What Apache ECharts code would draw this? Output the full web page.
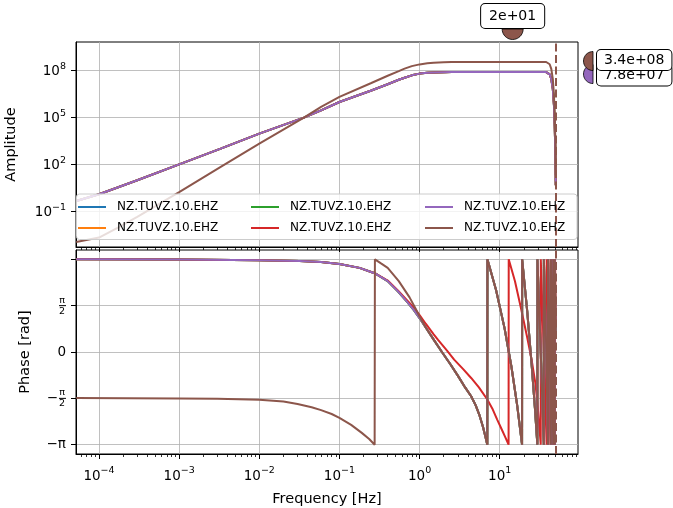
<!DOCTYPE html>
<html><head><meta charset="utf-8">
<script src="https://cdn.jsdelivr.net/npm/echarts@6/dist/echarts.min.js"></script>
<style>html,body{margin:0;padding:0;background:#fff}#c{width:673px;height:508px}</style>
</head><body><div id="c"></div>
<script>
// ---------------- data ----------------
const seriesLabel = 'NZ.TUVZ.10.EHZ';
const seriesCount = 6;
const colors = ['#1f77b4', '#ff7f0e', '#2ca02c', '#d62728', '#9467bd', '#8c564b'];

// amplitude response
const ampFreq = [5.2e-5, 1e-4, 1.7e-4, 3e-4, 1e-3, 3.3e-3, 1e-2, 3.6e-2, 5.9e-2, 0.1, 0.25, 0.4, 0.55, 0.65, 0.8, 1, 1.25, 1.5, 2, 2.5, 5, 10, 20, 38, 40, 42, 44, 46, 47.5, 48.5, 49.5, 50];
const ampA    = [0.457, 1.23, 3.3, 9.55, 100, 1000, 9.1e3, 9.5e4, 2.8e5, 9.5e5, 5.2e6, 1.3e7, 2.5e7, 3.4e7, 4.8e7, 6.2e7, 7.1e7, 7.4e7, 7.7e7, 7.8e7, 7.8e7, 7.8e7, 7.8e7, 7.8e7, 7.2e7, 5.6e7, 2.8e7, 6.3e6, 6.3e5, 3.2e4, 630, 4.6];
const ampB    = [1.1e-3, 2.1e-3, 8.7e-3, 0.044, 1.7, 69, 2.1e3, 9.5e4, 4.6e5, 2.0e6, 1.55e7, 4.5e7, 8.9e7, 1.29e8, 1.86e8, 2.4e8, 2.8e8, 3.1e8, 3.3e8, 3.4e8, 3.4e8, 3.4e8, 3.4e8, 3.4e8, 3.15e8, 2.45e8, 1.23e8, 2.75e7, 2.75e6, 1.4e5, 2.75e3, 20];

// phase response (rad)
const phaseFreqA = [5.2e-5, 1e-3, 1e-2, 3.2e-2, 5.9e-2, 0.1, 0.178, 0.275, 0.4, 0.54, 0.7, 0.85, 1.0, 1.2, 1.5, 1.9, 2.4, 3.0, 3.7, 4.4, 5.0, 5.6, 6.2, 6.6, 7.0, 7.02, 9, 11.5, 14, 16.5, 19, 19.05, 22, 25, 27.5, 29.5, 29.55, 32.5, 35.5, 35.55, 38, 40, 40.05, 42, 43.5, 43.55, 45, 46.5, 46.55, 48.5, 48.55, 50];
const phaseA     = [3.14, 3.135, 3.11, 3.08, 3.05, 2.98, 2.85, 2.67, 2.4, 2.05, 1.7, 1.42, 1.15, 0.82, 0.42, 0.0, -0.4, -0.8, -1.2, -1.5, -1.8, -2.15, -2.55, -2.85, -3.14, 3.14, 2.1, 0.8, -0.5, -1.8, -3.14, 3.14, 1.4, -0.4, -1.9, -3.14, 3.14, 0, -3.14, 3.14, 0.2, -3.14, 3.14, 0.4, -3.14, 3.14, 0.2, -3.14, 3.14, -3.14, 3.14, 0.5];

const phaseFreqR = [5.2e-5, 1e-3, 1e-2, 3.2e-2, 5.9e-2, 0.1, 0.178, 0.275, 0.4, 0.54, 0.7, 0.85, 1.0, 1.2, 1.5, 1.7, 2.2, 2.7, 3.5, 4.4, 5.5, 7.0, 8.2, 9.3, 10.5, 11.8, 12.9, 12.95, 15.5, 18.6, 22, 25, 28, 30, 32.5, 32.55, 35.5, 38.5, 38.55, 41, 43, 43.05, 45, 46.5, 46.55, 48, 49, 49.05, 50];
const phaseR     = [3.14, 3.135, 3.11, 3.08, 3.05, 2.98, 2.85, 2.67, 2.42, 2.08, 1.75, 1.5, 1.25, 0.95, 0.6, 0.41, 0.05, -0.26, -0.58, -0.88, -1.2, -1.61, -1.95, -2.29, -2.6, -2.9, -3.14, 3.14, 2.4, 1.43, 0.5, -0.26, -1.1, -1.95, -3.14, 3.14, 0, -3.14, 3.14, 0, -3.14, 3.14, 0, -3.14, 3.14, 0, -3.14, 3.14, 1.0];

const phaseFreqB = [5.2e-5, 1e-3, 3e-3, 1e-2, 2e-2, 3e-2, 4.5e-2, 5.9e-2, 8e-2, 0.1, 0.14, 0.19, 0.235, 0.275, 0.277, 0.33, 0.4, 0.55, 0.75, 0.9, 1.0, 1.2, 1.5, 1.9, 2.4, 3.0, 3.7, 4.4, 5.0, 5.6, 6.2, 6.6, 7.0, 7.02, 9, 11.5, 14, 16.5, 19, 19.05, 22, 25, 27.5, 29.5, 29.55, 32.5, 35.5, 35.55, 38, 40, 40.05, 42, 43.5, 43.55, 45, 46.5, 46.55, 48.5, 48.55, 50];
const phaseB     = [-1.557, -1.572, -1.585, -1.615, -1.68, -1.76, -1.87, -1.97, -2.1, -2.23, -2.47, -2.74, -2.95, -3.14, 3.14, 3.0, 2.85, 2.4, 1.85, 1.45, 1.2, 0.82, 0.42, 0.0, -0.4, -0.8, -1.2, -1.5, -1.8, -2.15, -2.55, -2.85, -3.14, 3.14, 2.1, 0.8, -0.5, -1.8, -3.14, 3.14, 1.4, -0.4, -1.9, -3.14, 3.14, 0, -3.14, 3.14, 0.2, -3.14, 3.14, 0.4, -3.14, 3.14, 0.2, -3.14, 3.14, -3.14, 3.14, 0.5];

// which amplitude / phase set each series uses
const ampSets   = [ampA, ampA, ampA, ampA, ampA, ampB];
const phaseSets = [[phaseFreqA, phaseA], [phaseFreqA, phaseA], [phaseFreqA, phaseA], [phaseFreqR, phaseR], [phaseFreqA, phaseA], [phaseFreqB, phaseB]];

const nyquist = 50;
const xMajorTicks = [1e-4, 1e-3, 1e-2, 1e-1, 1, 10];
const ampTicks = [1e-1, 1e2, 1e5, 1e8];
const phaseTicks = [-Math.PI, -Math.PI / 2, 0, Math.PI / 2, Math.PI];

// annotations
const annoFreq = 14.5, annoFreqText = '2e+01';
const annoAmpB = 3.4e8, annoAmpBText = '3.4e+08';
const annoAmpA = 7.8e7, annoAmpAText = '7.8e+07';

// axis ranges
const xMin = 5.16e-5, xMax = 94.8;
const ampMin = 5.25e-4, ampMax = 6.46e9;
const phMin = -1.1 * Math.PI, phMax = 1.1 * Math.PI;

// ---------------- chart ----------------
const FONT = 'DejaVu Sans';
const L = 76, R = 578, T1 = 42, B1 = 247, T2 = 250, B2 = 454;
const xMinorTicks = [];
for (let k = -5; k <= 1; k++) for (let m = 2; m <= 9; m++) {
  const v = m * Math.pow(10, k);
  if (v >= xMin && v <= xMax) xMinorTicks.push(+v.toPrecision(3));
}
const names = [];
for (let i = 0; i < seriesCount; i++) names.push(seriesLabel + '#' + i);

const gridLine = { show: true, lineStyle: { color: '#b0b0b0', width: 0.8, type: 'solid' } };
function expLabel(v) {
  const e = Math.round(Math.log10(v));
  const s = e < 0 ? '\u2212' + (-e) : '' + e;
  return '{b|10}{s|' + s + '}';
}
const expRich = {
  b: { fontSize: 13.5, fontFamily: FONT, color: '#000', lineHeight: 17, verticalAlign: 'bottom' },
  s: { fontSize: 9.5, fontFamily: FONT, color: '#000', lineHeight: 17, verticalAlign: 'top' }
};
function xMajorAxis(gi, showLabel) {
  return {
    type: 'log', logBase: 10, gridIndex: gi, min: xMin, max: xMax, position: 'bottom',
    axisLine: { show: true, onZero: false, lineStyle: { color: '#000', width: 1 } },
    axisTick: { show: true, customValues: xMajorTicks, length: 5, lineStyle: { color: '#000', width: 1 } },
    axisLabel: { show: showLabel, customValues: xMajorTicks, formatter: expLabel, rich: expRich, margin: 12, color: '#000' },
    splitLine: gridLine, minorTick: { show: false }, minorSplitLine: { show: false },
    name: showLabel ? 'Frequency [Hz]' : '', nameLocation: 'middle', nameGap: 38,
    nameTextStyle: { fontFamily: FONT, fontSize: 14.5, color: '#000' }
  };
}
function xMinorAxis(gi) {
  return {
    type: 'log', logBase: 10, gridIndex: gi, min: xMin, max: xMax, position: 'bottom',
    axisLine: { show: false, onZero: false },
    axisTick: { show: true, customValues: xMinorTicks, length: 3, lineStyle: { color: '#000', width: 0.8 } },
    axisLabel: { show: false, customValues: xMinorTicks },
    splitLine: { show: false }, minorTick: { show: false }
  };
}
function phaseLabel(v) {
  if (Math.abs(v - Math.PI) < 1e-6) return '';
  if (Math.abs(v - Math.PI / 2) < 1e-6) return '{n|π}\n{bar| }\n{d|2}';
  if (Math.abs(v) < 1e-6) return '{z|0}';
  if (Math.abs(v + Math.PI / 2) < 1e-6) return '{n|π}\n{m|\u2212}{bar| }\n{d|2}';
  return '{z|\u2212π}';
}
const phaseRich = {
  n: { fontSize: 9.5, fontFamily: FONT, color: '#000', lineHeight: 8, align: 'right', padding: [0, 1, 0, 0] },
  d: { fontSize: 9.5, fontFamily: FONT, color: '#000', lineHeight: 8, align: 'right', padding: [0, 1, 0, 0] },
  bar: { fontSize: 1, width: 7, height: 1, backgroundColor: '#000', lineHeight: 3, align: 'right' },
  m: { fontSize: 13.5, fontFamily: FONT, color: '#000', lineHeight: 3, align: 'left', padding: [0, 1, 0, 0] },
  z: { fontSize: 13.5, fontFamily: FONT, color: '#000' }
};

const series = [];
for (let i = 0; i < seriesCount; i++) {
  const amp = ampSets[i];
  const ampData = ampFreq.map((f, j) => [f, amp[j]]);
  const pf = phaseSets[i][0], pv = phaseSets[i][1];
  const phData = pf.map((f, j) => [f, pv[j]]);
  const isLast = i === seriesCount - 1;
  const nyq = isLast ? {
    symbol: 'none', silent: true, label: { show: false },
    lineStyle: { color: colors[i], width: 2, type: [8, 3.5] },
    data: [{ xAxis: nyquist }]
  } : undefined;
  series.push({
    type: 'line', name: names[i], xAxisIndex: 0, yAxisIndex: 0, data: ampData,
    symbol: 'none', showSymbol: false, lineStyle: { color: colors[i], width: 2 }, itemStyle: { color: colors[i] },
    z: 2 + i * 0.1, animation: false, markLine: nyq
  });
  series.push({
    type: 'line', name: names[i], xAxisIndex: 2, yAxisIndex: 1, data: phData,
    symbol: 'none', showSymbol: false, lineStyle: { color: colors[i], width: 2 }, itemStyle: { color: colors[i] },
    z: 2 + i * 0.1, animation: false, markLine: nyq
  });
}

const legendCols = [78, 251, 425];
const legends = legendCols.map((x, c) => ({
  data: [names[2 * c], names[2 * c + 1]],
  orient: 'vertical', left: x, top: 200, padding: 0, itemGap: 7, itemWidth: 28, itemHeight: 2,
  icon: 'rect', selectedMode: false, z: 11,
  formatter: n => n.split('#')[0],
  textStyle: { fontFamily: FONT, fontSize: 12, color: '#000', padding: [0, 0, 0, 6], lineHeight: 14 }
}));

const chart = echarts.init(document.getElementById('c'), null, { renderer: 'canvas' });
chart.setOption({
  animation: false,
  backgroundColor: '#fff',
  textStyle: { fontFamily: FONT },
  grid: [
    { left: L, top: T1, width: R - L, height: B1 - T1, show: true, borderColor: '#000', borderWidth: 1, backgroundColor: 'transparent', containLabel: false, outerBoundsMode: 'none' },
    { left: L, top: T2, width: R - L, height: B2 - T2, show: true, borderColor: '#000', borderWidth: 1, backgroundColor: 'transparent', containLabel: false, outerBoundsMode: 'none' }
  ],
  xAxis: [xMajorAxis(0, false), xMinorAxis(0), xMajorAxis(1, true), xMinorAxis(1)],
  yAxis: [
    {
      type: 'log', logBase: 10, gridIndex: 0, min: ampMin, max: ampMax, position: 'left',
      axisLine: { show: true, onZero: false, lineStyle: { color: '#000', width: 1 } },
      axisTick: { show: true, customValues: ampTicks, length: 5, lineStyle: { color: '#000', width: 1 } },
      axisLabel: { customValues: ampTicks, formatter: expLabel, rich: expRich, margin: 10, color: '#000' },
      splitLine: gridLine, minorTick: { show: false },
      name: 'Amplitude', nameLocation: 'middle', nameGap: 57, nameRotate: 90,
      nameTextStyle: { fontFamily: FONT, fontSize: 14.5, color: '#000' }
    },
    {
      type: 'value', gridIndex: 1, min: phMin, max: phMax, position: 'left',
      axisLine: { show: true, onZero: false, lineStyle: { color: '#000', width: 1 } },
      axisTick: { show: true, customValues: phaseTicks, length: 5, lineStyle: { color: '#000', width: 1 } },
      axisLabel: { customValues: phaseTicks, formatter: phaseLabel, rich: phaseRich, margin: 10, color: '#000' },
      splitLine: gridLine, minorTick: { show: false },
      name: 'Phase [rad]', nameLocation: 'middle', nameGap: 43, nameRotate: 90,
      nameTextStyle: { fontFamily: FONT, fontSize: 14.5, color: '#000' }
    }
  ],
  legend: legends,
  series: series
});

// annotations placed through the chart's own scales
function halfDisk(cx, cy, r, a0) {
  const pts = [];
  for (let k = 0; k <= 20; k++) {
    const a = a0 + Math.PI * k / 20;
    pts.push([cx + r * Math.cos(a), cy + r * Math.sin(a)]);
  }
  return pts;
}
const ax = chart.convertToPixel({ xAxisIndex: 0 }, annoFreq);
const yB = chart.convertToPixel({ yAxisIndex: 0 }, annoAmpB);
const yA = chart.convertToPixel({ yAxisIndex: 0 }, annoAmpA);
const boxStyle = { fontSize: 14, fontFamily: FONT, fill: '#000', backgroundColor: '#fff', borderColor: '#000', borderWidth: 1, borderRadius: 4, padding: [5, 8] };
chart.setOption({
  graphic: [
    { type: 'rect', silent: true, z: 3, shape: { x: L + 0.5, y: 194, width: R - L - 1.5, height: 45.5, r: 3 }, style: { fill: 'rgba(255,255,255,0.8)', stroke: '#cccccc', lineWidth: 1 } },
    { type: 'polygon', silent: true, z: 20, shape: { points: halfDisk(ax, T1 - 13, 10.5, 0) }, style: { fill: colors[5], stroke: '#000', lineWidth: 0.8 } },
    { type: 'text', silent: true, z: 20, x: ax, y: T1 - 14, style: Object.assign({ text: annoFreqText, align: 'center', verticalAlign: 'bottom' }, boxStyle) },
    { type: 'polygon', silent: true, z: 20, shape: { points: halfDisk(R + 15, yA + 2, 9.5, Math.PI / 2) }, style: { fill: colors[4], stroke: '#000', lineWidth: 0.8 } },
    { type: 'text', silent: true, z: 21, x: R + 19, y: yA + 3, style: Object.assign({ text: annoAmpAText, align: 'left', verticalAlign: 'middle' }, boxStyle, { padding: [0, 7, 7, 7] }) },
    { type: 'polygon', silent: true, z: 22, shape: { points: halfDisk(R + 15, yB - 1, 9.5, Math.PI / 2) }, style: { fill: colors[5], stroke: '#000', lineWidth: 0.8 } },
    { type: 'text', silent: true, z: 23, x: R + 19, y: yB - 2, style: Object.assign({ text: annoAmpBText, align: 'left', verticalAlign: 'middle' }, boxStyle, { padding: [3, 7] }) }
  ]
});
</script>
</body></html>
